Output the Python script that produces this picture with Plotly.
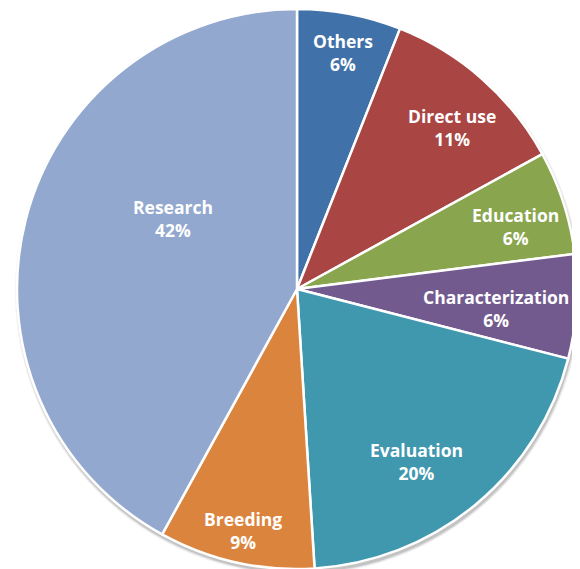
import math
import plotly.graph_objects as go

categories = ["Others", "Direct use", "Education", "Characterization", "Evaluation", "Breeding", "Research"]
values = [6, 11, 6, 6, 20, 9, 42]
colors = ["#4071A9", "#A94543", "#89A54E", "#725A8F", "#4098AF", "#DB843D", "#92A8CF"]

# label placement (fraction of radius, angular nudge in degrees)
label_radius = [0.86, 0.80, 0.81, 0.715, 0.75, 0.885, 0.51]
label_nudge = [0.2, 2.5, 2.1, 2.1, 4.9, 0.0, 15.4]

W, H = 580, 569
cx, cy, r = 289, 281, 280  # figure pixel coords (page adds an 8px body margin)

fig = go.Figure(go.Pie(
    labels=categories,
    values=values,
    sort=False,
    direction="clockwise",
    rotation=0,
    marker=dict(colors=colors, line=dict(color="white", width=2.5)),
    textinfo="none",
    showlegend=False,
    hoverinfo="label+percent",
    domain=dict(x=[(cx - r) / W, (cx + r) / W],
                y=[(H - cy - r) / H, (H - cy + r) / H]),
))

# soft shadow under the pie
for dr, a in [(3, 0.05), (2, 0.08), (1, 0.12)]:
    fig.add_shape(type="circle", xref="paper", yref="paper", layer="below",
                  x0=(cx + 1 - r - dr) / W, x1=(cx + 1 + r + dr) / W,
                  y0=1 - (cy + 3 + r + dr) / H, y1=1 - (cy + 3 - r - dr) / H,
                  fillcolor=f"rgba(0,0,0,{a})", line=dict(width=0))

total = sum(values)
cum = 0
for name, v, f, nd in zip(categories, values, label_radius, label_nudge):
    mid = (cum + v / 2) / total * 360 + nd
    cum += v
    px = cx + f * r * math.sin(math.radians(mid))
    py = cy - f * r * math.cos(math.radians(mid))
    fig.add_annotation(
        x=px / W, y=1 - py / H, xref="paper", yref="paper",
        xanchor="center", yanchor="middle",
        text=f"<b>{name}</b><br><b>{round(v / total * 100)}%</b>",
        showarrow=False, align="center",
        font=dict(family="Open Sans", size=17.5, color="white"),
    )

fig.update_layout(
    width=W, height=H,
    margin=dict(l=0, r=0, t=0, b=0),
    paper_bgcolor="white",
)

fig.write_html("out.html")
